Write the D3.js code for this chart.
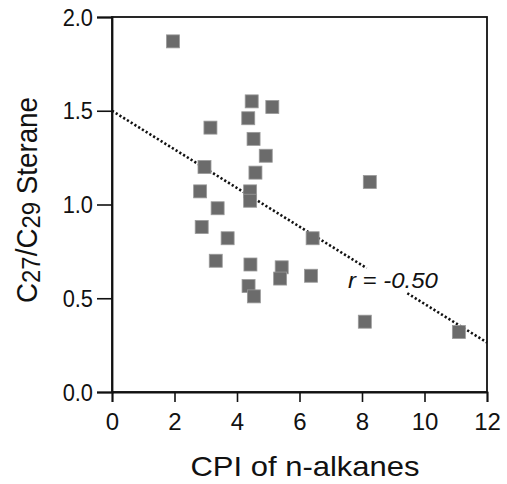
<!DOCTYPE html>
<html>
<head>
<meta charset="utf-8">
<script src="https://cdn.jsdelivr.net/npm/d3@7"></script>
<style>
  body { margin: 0; background: #fff; }
  text { font-family: "Liberation Sans", Arial, Helvetica, sans-serif; fill: #111; }
</style>
</head>
<body>
<div id="chart"></div>
<script>
// values
var cpi = [1.95, 4.47, 5.13, 4.36, 3.15, 4.53, 4.92, 2.96, 4.59, 8.25, 2.82, 4.42, 4.42,
           3.38, 2.87, 3.70, 6.42, 3.32, 4.43, 5.43, 5.38, 6.37, 4.37, 4.54, 8.09, 11.10];
var sterane = [1.87, 1.55, 1.52, 1.46, 1.41, 1.35, 1.26, 1.20, 1.17, 1.12, 1.07, 1.07, 1.02,
               0.98, 0.88, 0.82, 0.82, 0.70, 0.68, 0.665, 0.605, 0.62, 0.565, 0.51, 0.375, 0.32];
var xTicks = [0, 2, 4, 6, 8, 10, 12];
var yTicks = [0.0, 0.5, 1.0, 1.5, 2.0];
// regression line, drawn in two pieces around the label
var fitIntercept = 1.5;
var fitSlope = -0.103;
var fitPieces = [[0, 8.15], [9.45, 12]];
var rLabel = "r = -0.50";

var svgWidth = 507;
var svgHeight = 484;
var margin = { top: 17, right: 20, bottom: 92, left: 112 };
var width = svgWidth - margin.left - margin.right;
var height = svgHeight - margin.top - margin.bottom;

// y tick lettering in the scan is a touch narrower than Arial
var squeeze = 0.95;

var svg = d3.select("#chart")
  .append("svg")
  .attr("width", svgWidth)
  .attr("height", svgHeight);

var chartGroup = svg.append("g")
  .attr("transform", "translate(" + margin.left + "," + margin.top + ")");

var xScale = d3.scaleLinear().domain([0, 12]).range([0, width]);
var yScale = d3.scaleLinear().domain([0, 2]).range([height, 0]);

// frame
chartGroup.append("rect")
  .attr("width", width)
  .attr("height", height)
  .attr("fill", "none")
  .attr("stroke", "#111")
  .attr("stroke-width", 1.8);

var bottomAxis = d3.axisBottom(xScale).tickValues(xTicks).tickSize(10).tickPadding(11)
  .tickFormat(d3.format("d"));
var leftAxis = d3.axisLeft(yScale).tickValues(yTicks).tickSize(15).tickPadding(4)
  .tickFormat(d3.format(".1f"));

var xg = chartGroup.append("g")
  .attr("transform", "translate(0," + height + ")")
  .call(bottomAxis);
var yg = chartGroup.append("g").call(leftAxis);

[xg, yg].forEach(function (g) {
  g.select(".domain").attr("stroke", "#111").attr("stroke-width", 1.8);
  g.selectAll(".tick line").attr("stroke", "#111").attr("stroke-width", 1.6);
  g.selectAll(".tick text")
    .attr("fill", "#111")
    .style("font-family", '"Liberation Sans", Arial, sans-serif');
});
xg.selectAll(".tick text").style("font-size", "24px");
yg.selectAll(".tick text")
  .style("font-size", "23px")
  .attr("dy", "0.35em")
  .attr("x", -19 / squeeze)
  .attr("transform", "scale(" + squeeze + ",1)");

// regression line
var fitLine = d3.line()
  .x(d => xScale(d))
  .y(d => yScale(fitIntercept + fitSlope * d));

chartGroup.selectAll(".fit")
  .data(fitPieces)
  .enter()
  .append("path")
  .attr("class", "fit")
  .attr("d", d => fitLine(d))
  .attr("fill", "none")
  .attr("stroke", "#111")
  .attr("stroke-width", 2.6)
  .attr("stroke-dasharray", "2.2,2.2");

chartGroup.append("text")
  .attr("x", xScale(7.55))
  .attr("y", yScale(0.555))
  .attr("textLength", 90)
  .attr("lengthAdjust", "spacingAndGlyphs")
  .style("font-size", "22px")
  .style("font-style", "italic")
  .text(rLabel);

// squares
var size = 13;
chartGroup.selectAll(".pt")
  .data(cpi)
  .enter()
  .append("rect")
  .attr("class", "pt")
  .attr("x", (d, i) => xScale(d) - size / 2)
  .attr("y", (d, i) => yScale(sterane[i]) - size / 2)
  .attr("width", size)
  .attr("height", size)
  .attr("fill", "#6b6b6b")
  .attr("stroke", "#9a9a9a")
  .attr("stroke-width", 0.8);

// axis titles
svg.append("text")
  .attr("x", 305)
  .attr("y", 476)
  .attr("text-anchor", "middle")
  .attr("textLength", 229)
  .attr("lengthAdjust", "spacingAndGlyphs")
  .style("font-size", "28px")
  .text("CPI of n-alkanes");

var yTitle = svg.append("text")
  .attr("transform", "translate(37,200) rotate(-90)")
  .attr("text-anchor", "middle")
  .attr("textLength", 206)
  .attr("lengthAdjust", "spacingAndGlyphs")
  .style("font-size", "29px");
yTitle.append("tspan").text("C");
yTitle.append("tspan").attr("dy", 3).style("font-size", "25px").text("27");
yTitle.append("tspan").attr("dy", -3).text("/C");
yTitle.append("tspan").attr("dy", 3).style("font-size", "25px").text("29");
yTitle.append("tspan").attr("dy", -3).text(" Sterane");
</script>
</body>
</html>
